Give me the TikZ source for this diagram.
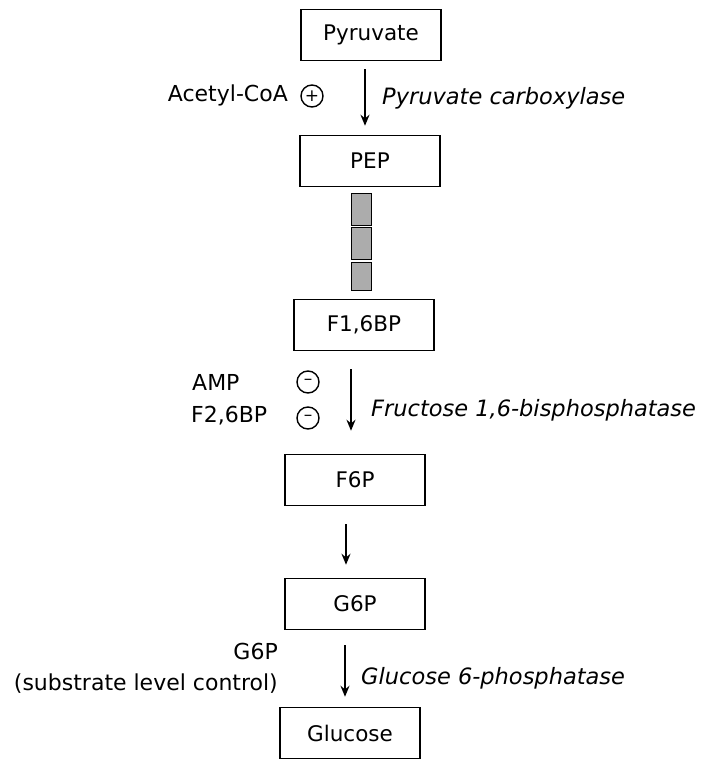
\documentclass[tikz,border=0pt]{standalone}
\usepackage{fontspec}
\setmainfont{DejaVu Sans}
\usetikzlibrary{arrows.meta}
\begin{document}
\begin{tikzpicture}[x=1pt,y=-1pt,
  met/.style={draw, line width=1.5pt, minimum width=140pt, minimum height=51pt, inner sep=0pt, font=\fontsize{21.5}{24}\selectfont},
  arr/.style={line width=1.7pt, -{Stealth[length=11pt,width=9pt]}},
  reg/.style={draw, circle, line width=1.4pt, minimum size=22pt, inner sep=0pt, font=\fontsize{17}{17}\selectfont},
  lbl/.style={inner sep=0pt, font=\fontsize{22}{24}\selectfont},
  enz/.style={inner sep=0pt, anchor=west, font=\fontsize{22.5}{24}\selectfont\itshape},
  bar/.style={draw, line width=0.8pt, fill=gray!65, minimum width=20pt, inner sep=0pt}]
\useasboundingbox (0,0) rectangle (703,762);
\node[met] (pyr) at (371,35) {Pyruvate};
\node[met] (pep) at (370,161) {PEP};
\node[met] (f16) at (364,325) {F1,6BP};
\node[met] (f6p) at (355,480) {F6P};
\node[met] (g6p) at (355,604) {G6P};
\node[met] (glc) at (350,733) {Glucose};
% grey bars
\node[bar, minimum height=32pt] (b1) at (361,209) {};
\node[bar, minimum height=32pt] (b2) at (361,243.5) {};
\node[bar, minimum height=28pt] (b3) at (361,276) {};
% arrows
\draw[arr, shorten <=8pt, shorten >=9pt] ([xshift=-6pt]pyr.south) -- ([xshift=-6pt]pyr.south |- pep.north);
\draw[arr, shorten <=18pt, shorten >=23pt] ([xshift=-13pt]f16.south) -- ([xshift=-13pt]f16.south |- f6p.north);
\draw[arr, shorten <=18pt, shorten >=13pt] ([xshift=-9pt]f6p.south) -- ([xshift=-9pt]f6p.south |- g6p.north);
\draw[arr, shorten <=15pt, shorten >=10pt] ([xshift=-10pt]g6p.south) -- ([xshift=-10pt]g6p.south |- glc.north);
% regulators
\node[lbl, anchor=east] (acoa) at (288,95) {Acetyl-CoA};
\node[reg] (c1) at (312,96) {+};
\node[enz] (pc) at (382,98) {Pyruvate carboxylase};
\node[lbl, anchor=west] (amp) at (192,382) {AMP};
\node[reg] (c2) at (308,382) {–};
\node[lbl, anchor=west] (f26) at (191,416) {F2,6BP};
\node[reg] (c3) at (308,418) {–};
\node[enz] (fbp) at (371,410) {Fructose 1,6-bisphosphatase};
\node[lbl, anchor=east] (g6pl) at (278,651) {G6P};
\node[lbl, anchor=east] (slc) at (278,684) {(substrate level control)};
\node[enz] (g6pase) at (361,678) {Glucose 6-phosphatase};
\end{tikzpicture}
\end{document}
